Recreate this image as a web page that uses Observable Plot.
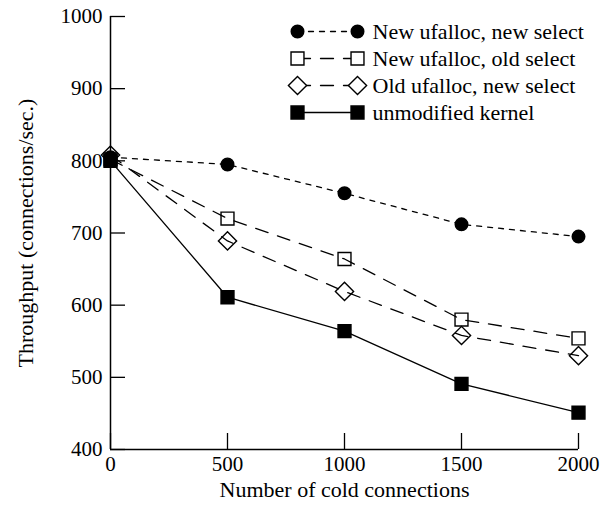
<!DOCTYPE html>
<html>
<head>
<meta charset="utf-8">
<script src="https://cdn.jsdelivr.net/npm/d3@7"></script>
<script src="https://cdn.jsdelivr.net/npm/@observablehq/plot@0.6"></script>
<style>
  html, body { margin: 0; padding: 0; background: #fff; }
  #wrap { position: relative; width: 608px; height: 506px; }
  #wrap > svg { position: absolute; left: 0; top: 0; }
</style>
</head>
<body>
<div id="wrap"></div>
<script>
const connections = [0, 500, 1000, 1500, 2000];
const seriesNames = [
  "New ufalloc, new select",
  "New ufalloc, old select",
  "Old ufalloc, new select",
  "unmodified kernel"
];
const newNew = [805, 795, 755, 712, 695];
const newOld = [802, 720, 664, 580, 554];
const oldNew = [808, 689, 619, 558, 530];
const unmodified = [800, 611, 564, 491, 451];
const xTicks = [0, 500, 1000, 1500, 2000];
const yTicks = [400, 500, 600, 700, 800, 900, 1000];

const seriesValues = [newNew, newOld, oldNew, unmodified];
const styles = [
  {dash: "5,6", symbol: "circle", fill: "black", r: 6.3},
  {dash: "13,10", symbol: "square", fill: "none", r: 7.3},
  {dash: "13,10", symbol: "diamond2", fill: "none", r: 8.2},
  {dash: null, symbol: "square", fill: "black", r: 7.3}
];

const rows = seriesNames.map((name, i) =>
  connections.map((c, j) => ({series: name, x: c, y: seriesValues[i][j]}))
);

const font = "'Liberation Serif', 'Times New Roman', serif";
const tickFs = 21;
const labelFs = 22;

const marks = [];
rows.forEach((data, i) => {
  const s = styles[i];
  marks.push(Plot.line(data, {x: "x", y: "y", stroke: "black", strokeWidth: 1.3,
    strokeDasharray: s.dash ?? undefined}));
});
rows.forEach((data, i) => {
  const s = styles[i];
  marks.push(Plot.dot(data, {x: "x", y: "y", symbol: () => s.symbol, r: s.r,
    fill: s.fill, stroke: "black", strokeWidth: 1.4}));
});

const chart = Plot.plot({
  width: 608,
  height: 506,
  marginLeft: 110,
  marginRight: 30,
  marginTop: 16,
  marginBottom: 57,
  style: {fontFamily: font, fontSize: tickFs + "px", color: "black", background: "transparent"},
  x: {domain: [0, 2000]},
  y: {domain: [400, 1000]},
  symbol: {type: "identity"},
  marks: [
    Plot.axisX({ticks: xTicks, tickSize: -16, tickPadding: 23, tickFormat: d => String(d),
      label: null, fontSize: tickFs, fontFamily: font, strokeWidth: 1.3}),
    Plot.axisX({ticks: [], label: "Number of cold connections", labelAnchor: "center",
      labelArrow: "none", labelOffset: 47, fontSize: labelFs, fontFamily: font}),
    Plot.axisY({ticks: yTicks, tickSize: -15, tickPadding: 23, tickFormat: d => String(d),
      label: null, fontSize: tickFs, fontFamily: font, strokeWidth: 1.3}),
    Plot.axisY({ticks: [], label: "Throughput (connections/sec.)", labelAnchor: "center",
      labelArrow: "none", labelOffset: 93, fontSize: labelFs, fontFamily: font}),
    Plot.ruleX([0], {stroke: "black", strokeWidth: 1.5}),
    Plot.ruleY([400], {stroke: "black", strokeWidth: 1.5}),
    ...marks
  ]
});
document.getElementById("wrap").appendChild(chart);

// Legend overlay
const legendRows = seriesNames.flatMap((name, i) => [0, 1].map(p => ({series: name, p, i})));
const legendMarks = [];
seriesNames.forEach((name, i) => {
  const s = styles[i];
  const d = legendRows.filter(r => r.series === name);
  legendMarks.push(Plot.line(d, {x: "p", y: "series", stroke: "black", strokeWidth: 1.3,
    strokeDasharray: s.dash ?? undefined}));
  legendMarks.push(Plot.dot(d, {x: "p", y: "series", symbol: () => s.symbol, r: s.r,
    fill: s.fill === "none" ? "white" : s.fill, stroke: "black", strokeWidth: 1.4}));
});
legendMarks.push(Plot.text(seriesNames, {x: () => 1, y: d => d, text: d => d,
  textAnchor: "start", dx: 15, fontSize: labelFs, fontFamily: font, fill: "black"}));

const legend = Plot.plot({
  width: 608,
  height: 150,
  margin: 0,
  style: {fontFamily: font, background: "transparent", overflow: "visible"},
  x: {type: "linear", domain: [0, 1], range: [297, 357], axis: null},
  y: {type: "point", domain: seriesNames, range: [16, 126], axis: null},
  symbol: {type: "identity"},
  marks: legendMarks
});
document.getElementById("wrap").appendChild(legend);
</script>
</body>
</html>
